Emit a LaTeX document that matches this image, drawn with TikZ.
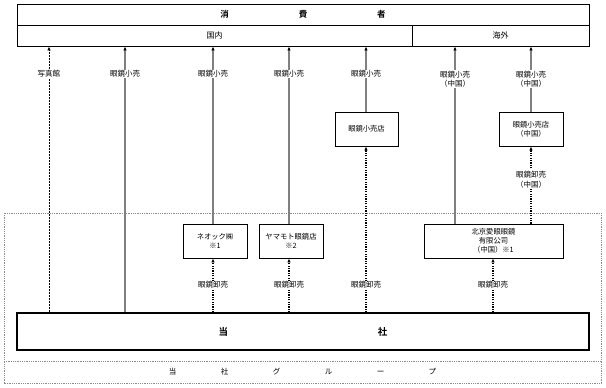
\documentclass[tikz,border=0pt]{standalone}
\usepackage{fontspec}
\setmainfont{Noto Sans CJK JP}[BoldFont={Noto Sans CJK JP Bold}]
\usetikzlibrary{arrows.meta}
\tikzset{
  box/.style={draw=black, line width=0.9pt, inner sep=0pt, align=center, font=\fontsize{7.3}{8.8}\selectfont},
  lab/.style={fill=white, inner sep=1pt, align=center, font=\fontsize{7.5}{9.5}\selectfont},
  tip/.style={-{Latex[length=4pt,width=3.5pt,black]}},
  solidln/.style={tip, draw=black!50, line width=1.6pt},
  dashln/.style={tip, draw=black, line width=0.6pt, dash pattern=on 2pt off 1pt},
  dotln/.style={tip, draw=black, line width=1.5pt, dash pattern=on 1.2pt off 1.2pt},
}
\begin{document}
\begin{tikzpicture}[x=1pt,y=-1pt]
\useasboundingbox (0,0) rectangle (606,388);
% group box
\draw[black!45, line width=0.6pt, dash pattern=on 1pt off 0.8pt] (4,213) rectangle (601,383);
\draw[black!45, line width=0.6pt, dash pattern=on 1pt off 0.8pt] (4,361) -- (601,361);
\node[font=\fontsize{7.5}{8}\selectfont] (grp) at (302.5,372) {当\hspace{44.5pt}社\hspace{44.5pt}グ\hspace{44.5pt}ル\hspace{44.5pt}ー\hspace{44.5pt}プ};
% top boxes
\node[box, minimum width=572pt, minimum height=21pt, font=\bfseries\fontsize{8.5}{10}\selectfont] (shohi) at (303,14.5) {消\hspace{70pt}費\hspace{70pt}者};
\node[box, minimum width=395pt, minimum height=21pt, font=\fontsize{8}{10}\selectfont] (kokunai) at (214.5,35.5) {国内};
\node[box, minimum width=177pt, minimum height=21pt, font=\fontsize{8}{10}\selectfont] (kaigai) at (500.5,35.5) {海外};
% company box
\node[box, line width=1.3pt, minimum width=572pt, minimum height=37pt, font=\bfseries\fontsize{9.5}{11}\selectfont] (tosha) at (303,331.5) {当\hspace{150pt}社};
% inner boxes
\node[box, minimum width=64pt, minimum height=34pt] (neok) at (215,241) {ネオック㈱\\※1};
\node[box, minimum width=64pt, minimum height=34pt] (yama) at (291,241) {ヤマモト眼鏡店\\※2};
\node[box, minimum width=139pt, minimum height=34pt] (pek) at (493.5,241) {北京愛眼眼鏡\\有限公司\\（中国）※1};
\node[box, minimum width=63pt, minimum height=34pt] (ret) at (366.5,129) {眼鏡小売店};
\node[box, minimum width=64pt, minimum height=34pt] (retc) at (531,129) {眼鏡小売店\\（中国）};
% x coordinates
\coordinate (xa) at (49,0);
\coordinate (xb) at (125,0);
\coordinate (xc) at (213,0);
\coordinate (xd) at (289,0);
\coordinate (xe) at (366,0);
\coordinate (xf) at (455,0);
\coordinate (xg) at (531,0);
\coordinate (xh) at (493,0);
% retail connectors
\draw[dashln] (tosha.north -| xa) -- (kokunai.south -| xa);
\draw[solidln] (tosha.north -| xb) -- (kokunai.south -| xb);
\draw[solidln] (neok.north -| xc) -- (kokunai.south -| xc);
\draw[solidln] (yama.north -| xd) -- (kokunai.south -| xd);
\draw[solidln] (ret.north -| xe) -- (kokunai.south -| xe);
\draw[solidln] (pek.north -| xf) -- (kaigai.south -| xf);
\draw[solidln] (retc.north -| xg) -- (kaigai.south -| xg);
% wholesale connectors
\draw[dotln] (tosha.north -| xc) -- (neok.south -| xc);
\draw[dotln] (tosha.north -| xd) -- (yama.south -| xd);
\draw[dotln] (tosha.north -| xe) -- (ret.south -| xe);
\draw[dotln] (tosha.north -| xh) -- (pek.south -| xh);
\draw[dotln] (pek.north -| xg) -- (retc.south -| xg);
% labels
\node[lab] (la) at (49,73.5) {写真館};
\node[lab] (lb) at (125,74) {眼鏡小売};
\node[lab] (lc) at (213,74) {眼鏡小売};
\node[lab] (ld) at (289,74) {眼鏡小売};
\node[lab] (le) at (366,74) {眼鏡小売};
\node[lab] (lf) at (455,79) {眼鏡小売\\（中国）};
\node[lab] (lg) at (531,79) {眼鏡小売\\（中国）};
\node[lab] (lh) at (531,179.5) {眼鏡卸売\\（中国）};
\node[lab] (li) at (213,285) {眼鏡卸売};
\node[lab] (lj) at (289,285) {眼鏡卸売};
\node[lab] (lk) at (366,285) {眼鏡卸売};
\node[lab] (ll) at (493,285) {眼鏡卸売};
\end{tikzpicture}
\end{document}
